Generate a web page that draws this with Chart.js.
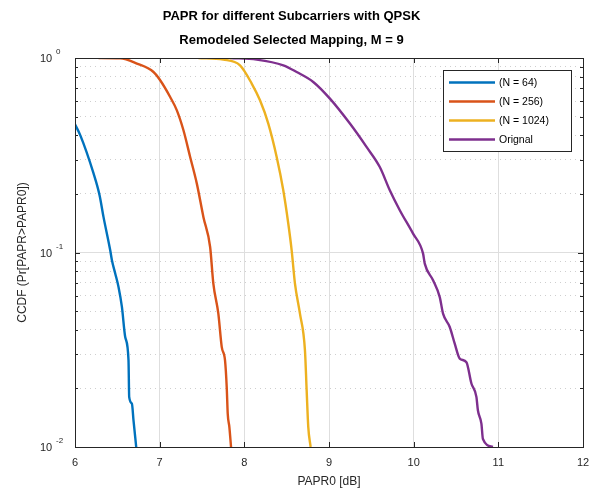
<!DOCTYPE html>
<html>
<head>
<meta charset="utf-8">
<script src="https://cdn.jsdelivr.net/npm/chart.js@4"></script>
<style>
  html, body { margin: 0; padding: 0; background: #fff; }
  #wrap { width: 590px; height: 490px; }
</style>
</head>
<body>
<div id="wrap"><canvas id="paprChart" width="590" height="490"></canvas></div>
<script>
// values
const titleLines = ["PAPR for different Subcarriers with QPSK", "Remodeled Selected Mapping, M = 9"];
const seriesNames = ["(N = 64)", "(N = 256)", "(N = 1024)", "Orignal"];
const seriesColors = ["#0072BD", "#D95319", "#EDB120", "#7E2F8E"];

const n64X = [6.0, 6.063, 6.219, 6.29, 6.337, 6.416, 6.436, 6.475, 6.514, 6.554, 6.593, 6.632, 6.64, 6.672, 6.691, 6.723];
const n64Y = [0.456, 0.4, 0.255, 0.197, 0.152, 0.1026, 0.0912, 0.078, 0.0665, 0.0525, 0.0368, 0.0279, 0.0181, 0.0167, 0.0137, 0.01];

const n256X = [6.278, 6.534, 6.731, 6.927, 7.006, 7.124, 7.203, 7.281, 7.36, 7.439, 7.517, 7.596, 7.634, 7.693, 7.733, 7.772, 7.792, 7.804, 7.823, 7.843];
const n256Y = [1.0, 0.997, 0.936, 0.847, 0.768, 0.63, 0.538, 0.425, 0.31, 0.226, 0.152, 0.1067, 0.0692, 0.0485, 0.0327, 0.0279, 0.0203, 0.0148, 0.0127, 0.01];

const n1024X = [7.458, 7.752, 7.949, 8.087, 8.185, 8.283, 8.382, 8.46, 8.519, 8.559, 8.598, 8.657, 8.716, 8.736, 8.755, 8.783];
const n1024Y = [1.0, 0.981, 0.917, 0.739, 0.606, 0.46, 0.31, 0.209, 0.141, 0.1026, 0.0692, 0.0485, 0.0314, 0.0196, 0.0127, 0.01];

const origX = [7.831, 8.146, 8.46, 8.618, 8.814, 9.011, 9.247, 9.443, 9.6, 9.718, 9.836, 9.993, 10.111, 10.131, 10.229, 10.308, 10.347, 10.426, 10.485, 10.544, 10.623, 10.682, 10.741, 10.759, 10.8, 10.818, 10.936];
const origY = [1.0, 0.981, 0.917, 0.847, 0.753, 0.618, 0.46, 0.349, 0.275, 0.209, 0.165, 0.125, 0.0987, 0.0877, 0.072, 0.059, 0.0485, 0.0414, 0.034, 0.0285, 0.0273, 0.0212, 0.0181, 0.0154, 0.0132, 0.011, 0.01];

const xTicks = [6, 7, 8, 9, 10, 11, 12];
const yMajor = [0.01, 0.1, 1];
const yExponents = ["-2", "-1", "0"];
const yMinor = [0.02, 0.03, 0.04, 0.05, 0.06, 0.07, 0.08, 0.09, 0.2, 0.3, 0.4, 0.5, 0.6, 0.7, 0.8, 0.9];

const FONT = "'Liberation Sans', Arial, Helvetica, sans-serif";
const AXIS_COLOR = "#262626";

function pairs(xs, ys) {
  return xs.map((x, i) => ({ x: x, y: ys[i] }));
}

const seriesX = [n64X, n256X, n1024X, origX];
const seriesY = [n64Y, n256Y, n1024Y, origY];

// box, inward ticks, y labels with exponents, legend
const axesBox = {
  id: "axesBox",
  afterDatasetsDraw(chart) {
    const { ctx, chartArea: a } = chart;
    const xs = chart.scales.x;
    const ys = chart.scales.y;
    ctx.save();
    ctx.strokeStyle = AXIS_COLOR;
    ctx.lineWidth = 1;
    ctx.beginPath();
    xTicks.forEach((t) => {
      const px = Math.round(xs.getPixelForValue(t)) + 0.5;
      ctx.moveTo(px, a.bottom); ctx.lineTo(px, a.bottom - 5);
      ctx.moveTo(px, a.top); ctx.lineTo(px, a.top + 5);
    });
    yMajor.forEach((t) => {
      const py = Math.round(ys.getPixelForValue(t)) + 0.5;
      ctx.moveTo(a.left, py); ctx.lineTo(a.left + 5, py);
      ctx.moveTo(a.right, py); ctx.lineTo(a.right - 5, py);
    });
    yMinor.forEach((t) => {
      const py = Math.round(ys.getPixelForValue(t)) + 0.5;
      ctx.moveTo(a.left, py); ctx.lineTo(a.left + 3, py);
      ctx.moveTo(a.right, py); ctx.lineTo(a.right - 3, py);
    });
    ctx.stroke();
    ctx.strokeRect(Math.round(a.left) + 0.5, Math.round(a.top) + 0.5,
      Math.round(a.right - a.left), Math.round(a.bottom - a.top));

    ctx.fillStyle = AXIS_COLOR;
    ctx.textBaseline = "middle";
    ctx.textAlign = "left";
    yMajor.forEach((t, i) => {
      const py = ys.getPixelForValue(t);
      ctx.font = "11px " + FONT;
      ctx.fillText("10", a.left - 35, py + 1);
      ctx.font = "8px " + FONT;
      ctx.fillText(yExponents[i], a.left - 19, py - 6);
    });
    ctx.restore();
  },
  afterDraw(chart) {
    const { ctx, chartArea: a } = chart;
    const bw = 128, bh = 81;
    const left = a.right - 12 - bw;
    const top = a.top + 12;
    ctx.save();
    ctx.fillStyle = "#fff";
    ctx.fillRect(left, top, bw, bh);
    ctx.strokeStyle = AXIS_COLOR;
    ctx.lineWidth = 1;
    ctx.strokeRect(Math.round(left) + 0.5, Math.round(top) + 0.5, bw, bh);
    ctx.font = "10.5px " + FONT;
    ctx.textBaseline = "middle";
    chart.data.datasets.forEach((ds, i) => {
      const ry = top + 12.5 + i * 19;
      ctx.strokeStyle = ds.borderColor;
      ctx.lineWidth = 2.4;
      ctx.beginPath();
      ctx.moveTo(left + 6, ry);
      ctx.lineTo(left + 52, ry);
      ctx.stroke();
      ctx.fillStyle = "#000";
      ctx.fillText(ds.label, left + 56, ry + 0.5);
    });
    ctx.restore();
  },
};

const ctx = document.getElementById("paprChart").getContext("2d");
new Chart(ctx, {
  type: "scatter",
  data: {
    datasets: seriesNames.map((name, i) => ({
      label: name,
      data: pairs(seriesX[i], seriesY[i]),
      showLine: true,
      borderColor: seriesColors[i],
      backgroundColor: seriesColors[i],
      borderWidth: 2.4,
      pointRadius: 0,
      cubicInterpolationMode: "monotone",
      fill: false,
    })),
  },
  options: {
    responsive: false,
    animation: false,
    events: [],
    layout: { padding: { left: 0, right: 7, top: 0, bottom: 0 } },
    plugins: {
      legend: { display: false },
      tooltip: { enabled: false },
      title: {
        display: true,
        text: titleLines,
        color: "#000",
        font: { family: FONT, size: 13, weight: "bold", lineHeight: 24 / 13 },
        padding: { top: 4, bottom: 6 },
      },
    },
    scales: {
      x: {
        type: "linear",
        min: 6,
        max: 12,
        afterBuildTicks: (s) => { s.ticks = xTicks.map((v) => ({ value: v })); },
        afterFit: (s) => { s.height = 43; s.paddingLeft = 0; s.paddingRight = 0; },
        ticks: { color: AXIS_COLOR, font: { family: FONT, size: 11 }, padding: 9 },
        grid: {
          drawTicks: false,
          color: (c) => (c.tick && (c.tick.value === 6 || c.tick.value === 12) ? "rgba(0,0,0,0)" : "#dedede"),
        },
        border: { display: false },
        title: {
          display: true,
          text: "PAPR0 [dB]",
          color: AXIS_COLOR,
          font: { family: FONT, size: 12 },
          padding: { top: 0, bottom: 1.5 },
        },
      },
      y: {
        type: "logarithmic",
        position: "left",
        min: 0.01,
        max: 1,
        afterBuildTicks: (s) => { s.ticks = yMajor.map((v) => ({ value: v, major: true })); },
        afterFit: (s) => { s.width = 75; },
        ticks: { display: false },
        grid: {
          drawTicks: false,
          color: (c) => (c.tick && c.tick.value === 0.1 ? "#dedede" : "rgba(0,0,0,0)"),
        },
        border: { display: false },
        title: {
          display: true,
          text: "CCDF (Pr[PAPR>PAPR0])",
          color: AXIS_COLOR,
          font: { family: FONT, size: 12 },
          padding: { top: 15, bottom: 0 },
        },
      },
      yMinor: {
        type: "logarithmic",
        position: "left",
        min: 0.01,
        max: 1,
        afterBuildTicks: (s) => { s.ticks = yMinor.map((v) => ({ value: v })); },
        afterFit: (s) => { s.width = 0; },
        ticks: { display: false },
        grid: { drawTicks: false, color: "#cfcfcf", lineWidth: 1 },
        border: { display: false, dash: [1, 4] },
      },
    },
  },
  plugins: [axesBox],
});
</script>
</body>
</html>
